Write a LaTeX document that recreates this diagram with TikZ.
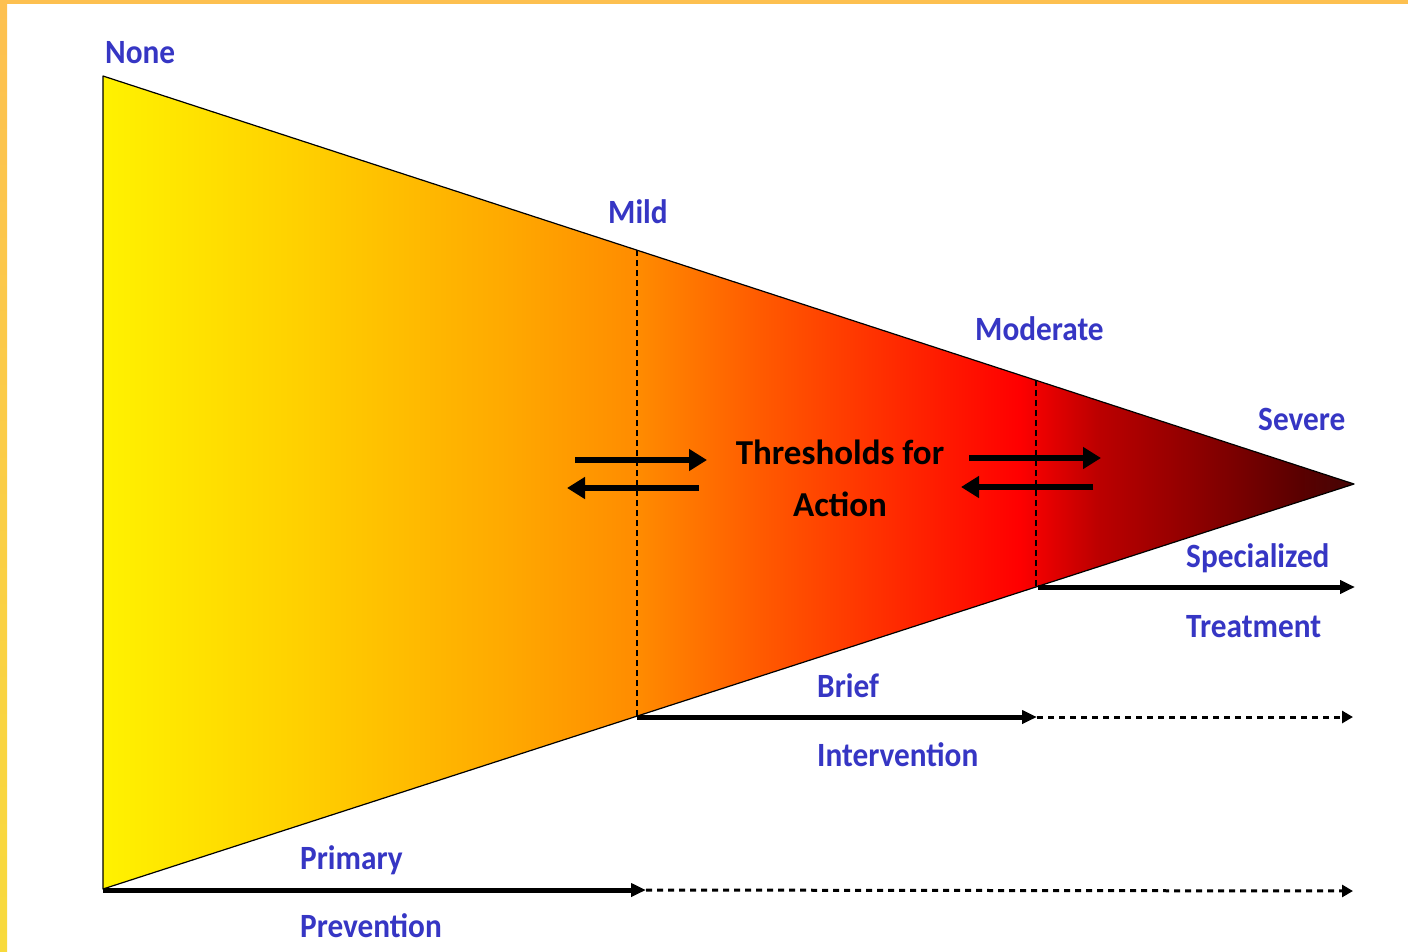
\documentclass[tikz,border=0pt]{standalone}
\usepackage{fontspec}
\usetikzlibrary{arrows.meta}
\newfontfamily\lblfont[FakeStretch=0.92]{Carlito}
\newfontfamily\headfont{Carlito}

\definecolor{lblblue}{HTML}{3636C4}
\definecolor{frametop}{HTML}{FDC050}
\definecolor{framebot}{HTML}{F8DA3C}
\definecolor{sA}{HTML}{FFF200}
\definecolor{sB}{HTML}{FFD000}
\definecolor{sC}{HTML}{FFAA00}
\definecolor{sD}{HTML}{FF8C00}
\definecolor{sE}{HTML}{FF5A00}
\definecolor{sF}{HTML}{FF2800}
\definecolor{sG}{HTML}{FF0000}
\definecolor{sH}{HTML}{BB0000}
\definecolor{sI}{HTML}{8C0000}
\definecolor{sJ}{HTML}{5A0000}
\definecolor{sK}{HTML}{450505}

% severity gradient; the path box maps onto 25bp..75bp
\pgfdeclarehorizontalshading{severity}{100bp}{%
  color(0bp)=(sA); color(25bp)=(sA); color(32.9bp)=(sB); color(40.9bp)=(sC);
  color(46.3bp)=(sD); color(51.3bp)=(sE); color(56.9bp)=(sF); color(61.6bp)=(sG);
  color(64.8bp)=(sH); color(68.8bp)=(sI); color(72.8bp)=(sJ); color(75bp)=(sK);
  color(100bp)=(sK)}

\tikzset{
  level/.style={font=\lblfont\bfseries\fontsize{34bp}{40bp}\selectfont, text=lblblue, inner sep=0pt, anchor=base west},
  headtxt/.style={font=\headfont\bfseries\fontsize{35bp}{42bp}\selectfont, text=black, inner sep=0pt, anchor=base},
  swap/.style={line width=6bp, -{Triangle[length=18bp,width=21bp]}},
  track/.style={line width=5bp, -{Triangle[length=15bp,width=13bp]}},
  trackdash/.style={line width=3bp, dash pattern=on 6bp off 5bp, -{Triangle[length=11bp,width=12bp]}},
  divider/.style={line width=1.2bp, dash pattern=on 6bp off 4bp},
}

\begin{document}
\begin{tikzpicture}[x=1bp, y=-1bp]
\useasboundingbox (0,0) rectangle (1408,951);
% frame strips
\fill[frametop] (0,0) rectangle (1408,4);
\shade[top color=frametop, bottom color=framebot] (0,0) rectangle (7,951);

% cone corners
\coordinate (tl) at (103,76);
\coordinate (bl) at (103,889);
\coordinate (tip) at (1354,484);
\shade[shading=severity] (tl) -- (tip) -- (bl) -- cycle;
\draw[line width=1.2bp, line join=round] (tl) -- (tip) -- (bl) -- cycle;

% thresholds
\coordinate (mildtop) at (637,250);
\coordinate (mildbot) at (637,716);
\coordinate (modtop) at (1036,380);
\coordinate (modbot) at (1036,587);
\draw[divider] (mildtop) -- (mildbot);
\draw[divider] (modtop) -- (modbot);

% level labels
\node[level] (none) at (105,63) {None};
\node[level] (mild) at (608,223) {Mild};
\node[level] (moderate) at (975,340) {Moderate};
\node[level] (severe) at (1258,430) {Severe};

% centre title
\node[headtxt] (thr) at (840,464) {Thresholds for};
\node[headtxt] (act) at (840,516) {Action};

% movement across thresholds
\coordinate (a1s) at (575,460); \coordinate (a1e) at (707,460);
\coordinate (a2s) at (699,488); \coordinate (a2e) at (567,488);
\coordinate (a3s) at (969,458); \coordinate (a3e) at (1101,458);
\coordinate (a4s) at (1093,487); \coordinate (a4e) at (961,487);
\draw[swap] (a1s) -- (a1e);
\draw[swap] (a2s) -- (a2e);
\draw[swap] (a3s) -- (a3e);
\draw[swap] (a4s) -- (a4e);

% service tracks
\coordinate (spS) at (1038,587); \coordinate (spE) at (1355,587);
\draw[track] (spS) -- (spE);
\coordinate (brS) at (637,717); \coordinate (brM) at (1037,717); \coordinate (brE) at (1353,717);
\draw[track] (brS) -- (brM);
\draw[trackdash] (brM) -- (brE);
\coordinate (prS) at (103,890); \coordinate (prM) at (646,890); \coordinate (prE) at (1353,891);
\draw[track] (prS) -- (prM);
\draw[trackdash] (prM) -- (prE);

% track labels
\node[level] (spec) at (1186,567) {Specialized};
\node[level] (treat) at (1186,637) {Treatment};
\node[level] (brief) at (817,697) {Brief};
\node[level] (interv) at (817,766) {Intervention};
\node[level] (prim) at (300,869) {Primary};
\node[level] (prev) at (300,937) {Prevention};
\end{tikzpicture}
\end{document}
